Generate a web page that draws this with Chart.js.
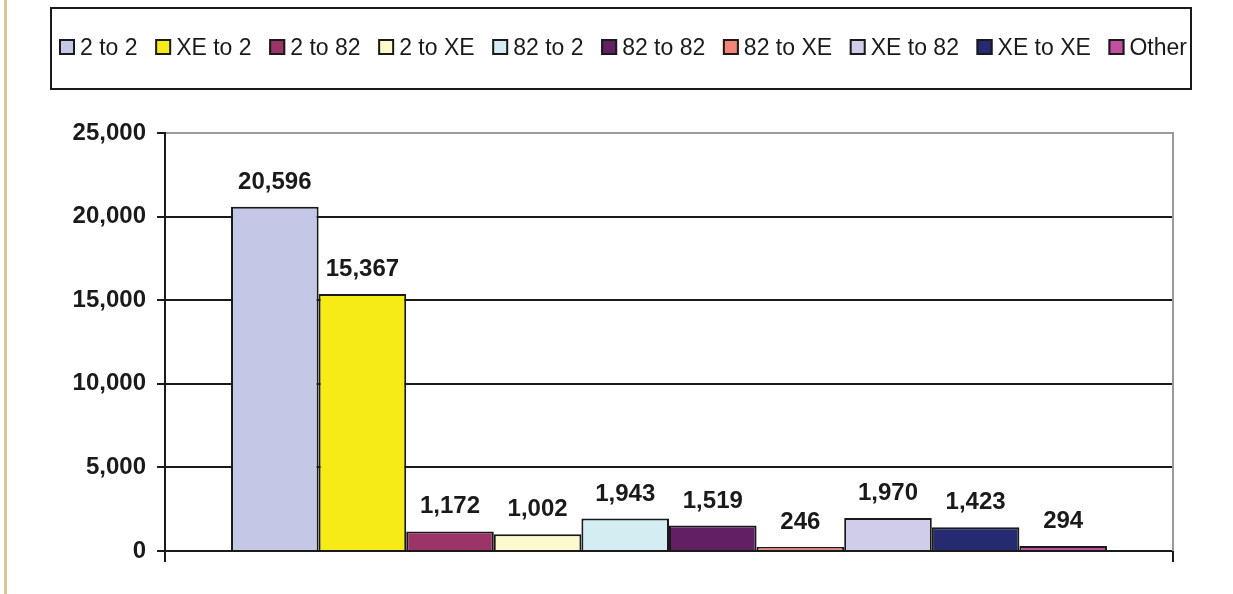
<!DOCTYPE html>
<html>
<head>
<meta charset="utf-8">
<title>Transfers by type</title>
<script src="https://cdn.jsdelivr.net/npm/chart.js@4.4.1/dist/chart.umd.min.js"></script>
<style>
  html, body { margin: 0; padding: 0; background: #fff; }
  #wrap { position: relative; width: 1233px; height: 594px; }
</style>
</head>
<body>
<div id="wrap"><canvas id="transfers" width="1233" height="594"></canvas></div>
<script>
// transfer types and their counts
var transferTypes = ['2 to 2', 'XE to 2', '2 to 82', '2 to XE', '82 to 2', '82 to 82', '82 to XE', 'XE to 82', 'XE to XE', 'Other'];
var transferCounts = [20596, 15367, 1172, 1002, 1943, 1519, 246, 1970, 1423, 294];
var typeColors = ['#c5c7e6', '#f6eb16', '#9c3567', '#fdf9cf', '#d3edf3', '#621f62', '#f4837a', '#cfcdea', '#262a70', '#c24f9f'];
var yTickValues = [0, 5000, 10000, 15000, 20000, 25000];

var fontFamily = '"Liberation Sans", Arial, Helvetica, sans-serif';

function fmt(n) {
    return n.toLocaleString('en-US');
}

// thin tan rule down the left edge of the page
var pageRule = {
    id: 'pageRule',
    beforeDraw: function(chart) {
        var ctx = chart.ctx;
        ctx.save();
        ctx.fillStyle = '#d8c590';
        ctx.fillRect(4, 0, 3, chart.height);
        ctx.restore();
    }
};

// grey frame line on the right side of the plot
var rightFrame = {
    id: 'rightFrame',
    beforeDatasetsDraw: function(chart) {
        var a = chart.chartArea, ctx = chart.ctx;
        ctx.save();
        ctx.strokeStyle = '#9a9a9a';
        ctx.lineWidth = 2;
        ctx.beginPath();
        ctx.moveTo(a.right, a.top - 1);
        ctx.lineTo(a.right, a.bottom);
        ctx.stroke();
        ctx.restore();
    }
};

// value labels above each bar
var barValues = {
    id: 'barValues',
    afterDatasetsDraw: function(chart) {
        var ctx = chart.ctx;
        ctx.save();
        ctx.font = 'bold 24px ' + fontFamily;
        ctx.fillStyle = '#1a1a1a';
        ctx.textAlign = 'center';
        ctx.textBaseline = 'alphabetic';
        chart.data.datasets.forEach(function(ds, i) {
            var bar = chart.getDatasetMeta(i).data[0];
            if (!bar) return;
            ctx.fillText(fmt(ds.data[0]), bar.x, bar.y - 18);
        });
        ctx.restore();
    }
};

// boxed legend across the top
var boxLegend = {
    id: 'boxLegend',
    afterDraw: function(chart) {
        var ctx = chart.ctx;
        var left = 51, top = 8, right = 1191, bottom = 89;
        var itemsLeft = 59, itemsRight = 1187;
        var box = 16, boxGap = 5, baseline = 55;
        ctx.save();
        ctx.strokeStyle = '#1a1a1a';
        ctx.lineWidth = 2;
        ctx.strokeRect(left, top, right - left, bottom - top);

        ctx.font = '23px ' + fontFamily;
        var sets = chart.data.datasets;
        var widths = sets.map(function(ds) { return ctx.measureText(ds.label).width; });
        var used = 0;
        widths.forEach(function(w) { used += box + boxGap + w; });
        var gap = (itemsRight - itemsLeft - used) / (sets.length - 1);

        var x = itemsLeft;
        ctx.textBaseline = 'alphabetic';
        ctx.textAlign = 'left';
        sets.forEach(function(ds, i) {
            ctx.fillStyle = ds.backgroundColor;
            ctx.fillRect(x, baseline - box, box, box);
            ctx.strokeStyle = '#1a1a1a';
            ctx.lineWidth = 2;
            ctx.strokeRect(x + 1, baseline - box + 1, box - 2, box - 2);
            ctx.fillStyle = '#1a1a1a';
            ctx.fillText(ds.label, x + box + boxGap, baseline);
            x += box + boxGap + widths[i] + gap;
        });
        ctx.restore();
    }
};

var datasets = transferTypes.map(function(name, i) {
    return {
        label: name,
        data: [transferCounts[i]],
        backgroundColor: typeColors[i],
        borderColor: '#1a1a1a',
        borderWidth: 2,
        borderSkipped: 'bottom',
        categoryPercentage: 0.869,
        barPercentage: 1
    };
});

new Chart(document.getElementById('transfers'), {
    type: 'bar',
    data: {
        labels: [''],
        datasets: datasets
    },
    options: {
        responsive: false,
        animation: false,
        devicePixelRatio: 1,
        layout: {
            padding: { top: 133, right: 60, bottom: 32, left: 0 }
        },
        plugins: {
            legend: { display: false },
            tooltip: { enabled: false }
        },
        scales: {
            x: {
                type: 'category',
                offset: true,
                grid: {
                    offset: true,
                    drawOnChartArea: false,
                    drawTicks: true,
                    tickLength: 11,
                    color: '#1a1a1a',
                    lineWidth: 2
                },
                border: { display: true, color: '#1a1a1a', width: 2 },
                ticks: { display: false },
                afterFit: function(scale) { scale.height = 11; }
            },
            y: {
                min: 0,
                max: 25000,
                afterBuildTicks: function(scale) {
                    scale.ticks = yTickValues.map(function(v) { return { value: v }; });
                },
                ticks: {
                    padding: 11,
                    color: '#1a1a1a',
                    font: { family: fontFamily, size: 24, weight: 'bold' },
                    callback: function(v) { return fmt(v); }
                },
                grid: {
                    drawTicks: true,
                    tickLength: 8,
                    lineWidth: 2,
                    color: function(c) {
                        return c.tick && c.tick.value === 25000 ? '#9a9a9a' : '#1a1a1a';
                    },
                    tickColor: '#1a1a1a'
                },
                border: { display: true, color: '#1a1a1a', width: 2 },
                afterFit: function(scale) { scale.width = 165; }
            }
        }
    },
    plugins: [pageRule, rightFrame, barValues, boxLegend]
});
</script>
</body>
</html>
